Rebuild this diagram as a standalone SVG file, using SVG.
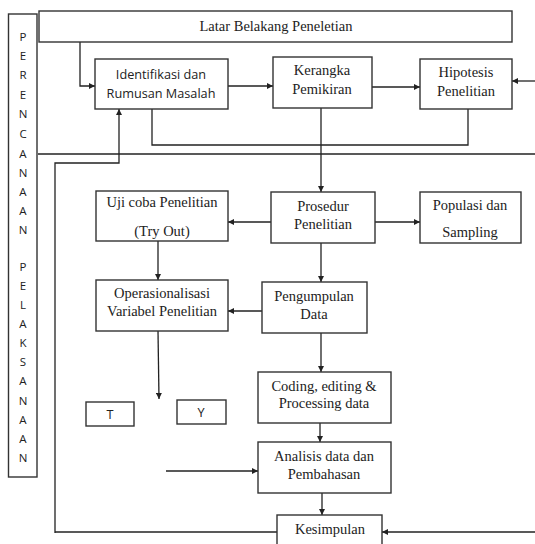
<svg xmlns="http://www.w3.org/2000/svg" width="535" height="544" viewBox="0 0 535 544">
<defs>
<marker id="ah" viewBox="0 0 10 10" refX="10" refY="5" markerWidth="6" markerHeight="6" markerUnits="userSpaceOnUse" orient="auto">
<path d="M0,0 L10,5 L0,10 z" fill="#222"/>
</marker>
<style>
.box{fill:#fff;stroke:#333;stroke-width:1.4}
.ln{fill:none;stroke:#222;stroke-width:1.3}
.ar{fill:none;stroke:#222;stroke-width:1.3;marker-end:url(#ah)}
.s{font-family:'Liberation Serif','Times New Roman','DejaVu Serif',serif;font-size:14.5px;fill:#222;text-anchor:middle}
.a{font-family:'Open Sans','Liberation Sans',sans-serif;font-size:12.7px;fill:#222;text-anchor:middle}
.v{font-family:'Open Sans','Liberation Sans',sans-serif;font-size:11.5px;fill:#222;text-anchor:middle}
</style>
</defs>
<rect width="535" height="544" fill="#fff"/>
<g id="connectors">
<polyline class="ar" points="80,42 80,86 95,86"/>
<line class="ar" x1="228" y1="86" x2="273" y2="86"/>
<line class="ar" x1="372" y1="87" x2="420" y2="87"/>
<line class="ar" x1="535" y1="81" x2="512" y2="81"/>
<polyline class="ln" points="152,109 152,145 468,145 468,109"/>
<line class="ln" x1="38" y1="154" x2="535" y2="154"/>
<line class="ar" x1="321" y1="108" x2="321" y2="192"/>
<polyline class="ar" points="55,533 55,163 119,163 119,109"/>
<line class="ln" x1="55" y1="532" x2="277" y2="532"/>
<line class="ar" x1="271" y1="222" x2="228" y2="222"/>
<line class="ar" x1="375" y1="222" x2="420" y2="222"/>
<line class="ar" x1="158" y1="241" x2="158" y2="280"/>
<line class="ar" x1="321" y1="243" x2="321" y2="282"/>
<line class="ar" x1="262" y1="311" x2="228" y2="311"/>
<line class="ar" x1="158" y1="331" x2="159" y2="399"/>
<line class="ar" x1="321" y1="333" x2="321" y2="372"/>
<line class="ar" x1="320" y1="423" x2="320" y2="442"/>
<line class="ar" x1="166" y1="471" x2="258" y2="471"/>
<line class="ar" x1="322" y1="493" x2="322" y2="515"/>
<line class="ar" x1="535" y1="532" x2="382" y2="532"/>
</g>
<g id="perencanaan">
<rect class="box" x="8.5" y="14" width="28.5" height="463"/>
<text class="v" x="23" y="41">P</text>
<text class="v" x="23" y="60">E</text>
<text class="v" x="23" y="79">R</text>
<text class="v" x="23" y="99">E</text>
<text class="v" x="23" y="118">N</text>
<text class="v" x="23" y="138">C</text>
<text class="v" x="23" y="158">A</text>
<text class="v" x="23" y="177">N</text>
<text class="v" x="23" y="196">A</text>
<text class="v" x="23" y="215">A</text>
<text class="v" x="23" y="234">N</text>
<text class="v" x="23" y="271">P</text>
<text class="v" x="23" y="290">E</text>
<text class="v" x="23" y="309">L</text>
<text class="v" x="23" y="328">A</text>
<text class="v" x="23" y="347">K</text>
<text class="v" x="23" y="366">S</text>
<text class="v" x="23" y="385">A</text>
<text class="v" x="23" y="405">N</text>
<text class="v" x="23" y="424">A</text>
<text class="v" x="23" y="443">A</text>
<text class="v" x="23" y="462">N</text>
</g>
<g id="latar">
<rect class="box" x="39" y="11" width="473" height="31"/>
<text class="s" x="276" y="31">Latar Belakang Peneletian</text>
</g>
<g id="identifikasi">
<rect class="box" x="95" y="59" width="133" height="50"/>
<text class="a" x="161" y="79">Identifikasi dan</text>
<text class="a" x="161" y="98">Rumusan Masalah</text>
</g>
<g id="kerangka">
<rect class="box" x="273" y="57" width="99" height="51"/>
<text class="s" x="322" y="75">Kerangka</text>
<text class="s" x="322" y="94">Pemikiran</text>
</g>
<g id="hipotesis">
<rect class="box" x="420" y="59" width="92" height="50"/>
<text class="s" x="466" y="77">Hipotesis</text>
<text class="s" x="466" y="96">Penelitian</text>
</g>
<g id="prosedur">
<rect class="box" x="271" y="192" width="104" height="51"/>
<text class="s" x="323" y="211">Prosedur</text>
<text class="s" x="323" y="229">Penelitian</text>
</g>
<g id="populasi">
<rect class="box" x="420" y="192" width="101" height="51"/>
<text class="s" x="470" y="210">Populasi dan</text>
<text class="s" x="470" y="237">Sampling</text>
</g>
<g id="ujicoba">
<rect class="box" x="96" y="191" width="132" height="50"/>
<text class="s" x="162" y="207">Uji coba Penelitian</text>
<text class="s" x="162" y="236">(Try Out)</text>
</g>
<g id="operasionalisasi">
<rect class="box" x="96" y="280" width="132" height="51"/>
<text class="s" x="162" y="298">Operasionalisasi</text>
<text class="s" x="162" y="316">Variabel Penelitian</text>
</g>
<g id="pengumpulan">
<rect class="box" x="262" y="282" width="105" height="51"/>
<text class="s" x="314" y="301">Pengumpulan</text>
<text class="s" x="314" y="319">Data</text>
</g>
<g id="t">
<rect class="box" x="86" y="402" width="48" height="24"/>
<text class="a" x="110" y="419">T</text>
</g>
<g id="y">
<rect class="box" x="177" y="400" width="49" height="24"/>
<text class="a" x="201" y="417">Y</text>
</g>
<g id="coding">
<rect class="box" x="258" y="372" width="133" height="51"/>
<text class="s" x="324" y="391">Coding, editing &amp;</text>
<text class="s" x="324" y="408">Processing data</text>
</g>
<g id="analisis">
<rect class="box" x="258" y="442" width="133" height="51"/>
<text class="s" x="324" y="461">Analisis data dan</text>
<text class="s" x="324" y="479">Pembahasan</text>
</g>
<g id="kesimpulan">
<rect class="box" x="277" y="515" width="105" height="40"/>
<text class="s" x="330" y="534">Kesimpulan</text>
</g>
</svg>
